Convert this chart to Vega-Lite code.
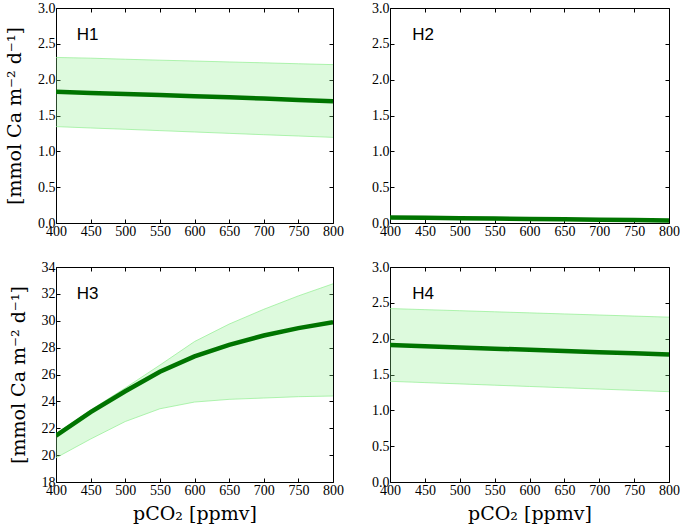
{
  "$schema": "https://vega.github.io/schema/vega-lite/v6.json",
  "padding": {"left": 5, "top": 0, "right": 0, "bottom": 0},
  "background": "white",
  "datasets": {
    "d": [
      {"panel": "H1", "x": 400, "mean": 1.83, "hi": 2.31, "lo": 1.345},
      {"panel": "H1", "x": 450, "mean": 1.815, "hi": 2.30, "lo": 1.326},
      {"panel": "H1", "x": 500, "mean": 1.80, "hi": 2.285, "lo": 1.308},
      {"panel": "H1", "x": 550, "mean": 1.785, "hi": 2.272, "lo": 1.289},
      {"panel": "H1", "x": 600, "mean": 1.77, "hi": 2.26, "lo": 1.27},
      {"panel": "H1", "x": 650, "mean": 1.753, "hi": 2.247, "lo": 1.251},
      {"panel": "H1", "x": 700, "mean": 1.736, "hi": 2.235, "lo": 1.232},
      {"panel": "H1", "x": 750, "mean": 1.718, "hi": 2.222, "lo": 1.214},
      {"panel": "H1", "x": 800, "mean": 1.70, "hi": 2.21, "lo": 1.195},
      {"panel": "H2", "x": 400, "mean": 0.078, "hi": 0.083, "lo": 0.058},
      {"panel": "H2", "x": 450, "mean": 0.073, "hi": 0.078, "lo": 0.053},
      {"panel": "H2", "x": 500, "mean": 0.068, "hi": 0.073, "lo": 0.048},
      {"panel": "H2", "x": 550, "mean": 0.063, "hi": 0.068, "lo": 0.043},
      {"panel": "H2", "x": 600, "mean": 0.057, "hi": 0.062, "lo": 0.037},
      {"panel": "H2", "x": 650, "mean": 0.052, "hi": 0.057, "lo": 0.032},
      {"panel": "H2", "x": 700, "mean": 0.046, "hi": 0.051, "lo": 0.026},
      {"panel": "H2", "x": 750, "mean": 0.041, "hi": 0.046, "lo": 0.021},
      {"panel": "H2", "x": 800, "mean": 0.036, "hi": 0.041, "lo": 0.016},
      {"panel": "H3", "x": 400, "mean": 21.45, "hi": 21.6, "lo": 19.8},
      {"panel": "H3", "x": 450, "mean": 23.2, "hi": 23.35, "lo": 21.2},
      {"panel": "H3", "x": 500, "mean": 24.75, "hi": 25.0, "lo": 22.5},
      {"panel": "H3", "x": 550, "mean": 26.2, "hi": 26.7, "lo": 23.45},
      {"panel": "H3", "x": 600, "mean": 27.35, "hi": 28.45, "lo": 23.95},
      {"panel": "H3", "x": 650, "mean": 28.2, "hi": 29.75, "lo": 24.15},
      {"panel": "H3", "x": 700, "mean": 28.9, "hi": 30.85, "lo": 24.25},
      {"panel": "H3", "x": 750, "mean": 29.45, "hi": 31.85, "lo": 24.35},
      {"panel": "H3", "x": 800, "mean": 29.9, "hi": 32.75, "lo": 24.4},
      {"panel": "H4", "x": 400, "mean": 1.91, "hi": 2.42, "lo": 1.405},
      {"panel": "H4", "x": 450, "mean": 1.894, "hi": 2.405, "lo": 1.387},
      {"panel": "H4", "x": 500, "mean": 1.878, "hi": 2.39, "lo": 1.369},
      {"panel": "H4", "x": 550, "mean": 1.861, "hi": 2.375, "lo": 1.351},
      {"panel": "H4", "x": 600, "mean": 1.845, "hi": 2.36, "lo": 1.333},
      {"panel": "H4", "x": 650, "mean": 1.829, "hi": 2.345, "lo": 1.315},
      {"panel": "H4", "x": 700, "mean": 1.812, "hi": 2.33, "lo": 1.297},
      {"panel": "H4", "x": 750, "mean": 1.796, "hi": 2.315, "lo": 1.279},
      {"panel": "H4", "x": 800, "mean": 1.78, "hi": 2.30, "lo": 1.26}
    ]
  },
  "data": {"name": "d"},
  "spacing": 20,
  "vconcat": [
    {
      "spacing": 57,
      "bounds": "flush",
      "hconcat": [
        {
          "width": 277, "height": 215,
          "transform": [{"filter": "datum.panel === 'H1'"}],
          "layer": [
            {"mark": {"type": "area", "color": "#90ee90", "opacity": 0.3, "clip": true},
             "encoding": {
               "x": {"field": "x", "type": "quantitative", "scale": {"domain": [400, 800]}, "axis": {"values": [400, 450, 500, 550, 600, 650, 700, 750, 800], "title": null}},
               "y": {"field": "lo", "type": "quantitative", "scale": {"domain": [0, 3]}, "axis": {"values": [0, 0.5, 1, 1.5, 2, 2.5, 3], "format": ".1f", "title": "[mmol Ca m⁻² d⁻¹]"}},
               "y2": {"field": "hi"}}},
            {"mark": {"type": "line", "color": "#90ee90", "opacity": 0.7, "strokeWidth": 1, "clip": true},
             "encoding": {"x": {"field": "x", "type": "quantitative", "axis": null}, "y": {"field": "hi", "type": "quantitative", "axis": null}}},
            {"mark": {"type": "line", "color": "#90ee90", "opacity": 0.7, "strokeWidth": 1, "clip": true},
             "encoding": {"x": {"field": "x", "type": "quantitative", "axis": null}, "y": {"field": "lo", "type": "quantitative", "axis": null}}},
            {"mark": {"type": "line", "color": "#007400", "strokeWidth": 4.5, "clip": true},
             "encoding": {
               "x": {"field": "x", "type": "quantitative", "axis": {"orient": "top", "labels": false, "title": null, "values": [400, 450, 500, 550, 600, 650, 700, 750, 800]}},
               "y": {"field": "mean", "type": "quantitative", "axis": {"orient": "right", "labels": false, "title": null, "values": [0, 0.5, 1, 1.5, 2, 2.5, 3]}}}},
            {"data": {"values": [{"panel": "H1", "t": "H1"}]},
             "mark": {"type": "text", "align": "left", "baseline": "alphabetic", "font": "Liberation Sans", "fontSize": 17, "color": "black"},
             "encoding": {"x": {"datum": 430, "type": "quantitative", "axis": null}, "y": {"datum": 2.55, "type": "quantitative", "axis": null}, "text": {"field": "t"}}}
          ],
          "resolve": {"axis": {"x": "independent", "y": "independent"}}
        },
        {
          "width": 279, "height": 215,
          "transform": [{"filter": "datum.panel === 'H2'"}],
          "layer": [
            {"mark": {"type": "area", "color": "#90ee90", "opacity": 0.3, "clip": true},
             "encoding": {
               "x": {"field": "x", "type": "quantitative", "scale": {"domain": [400, 800]}, "axis": {"values": [400, 450, 500, 550, 600, 650, 700, 750, 800], "title": null}},
               "y": {"field": "lo", "type": "quantitative", "scale": {"domain": [0, 3]}, "axis": {"values": [0, 0.5, 1, 1.5, 2, 2.5, 3], "format": ".1f", "title": null}},
               "y2": {"field": "hi"}}},
            {"mark": {"type": "line", "color": "#90ee90", "opacity": 0.7, "strokeWidth": 1, "clip": true},
             "encoding": {"x": {"field": "x", "type": "quantitative", "axis": null}, "y": {"field": "hi", "type": "quantitative", "axis": null}}},
            {"mark": {"type": "line", "color": "#90ee90", "opacity": 0.7, "strokeWidth": 1, "clip": true},
             "encoding": {"x": {"field": "x", "type": "quantitative", "axis": null}, "y": {"field": "lo", "type": "quantitative", "axis": null}}},
            {"mark": {"type": "line", "color": "#007400", "strokeWidth": 4.5, "clip": true},
             "encoding": {
               "x": {"field": "x", "type": "quantitative", "axis": {"orient": "top", "labels": false, "title": null, "values": [400, 450, 500, 550, 600, 650, 700, 750, 800]}},
               "y": {"field": "mean", "type": "quantitative", "axis": {"orient": "right", "labels": false, "title": null, "values": [0, 0.5, 1, 1.5, 2, 2.5, 3]}}}},
            {"data": {"values": [{"panel": "H2", "t": "H2"}]},
             "mark": {"type": "text", "align": "left", "baseline": "alphabetic", "font": "Liberation Sans", "fontSize": 17, "color": "black"},
             "encoding": {"x": {"datum": 432, "type": "quantitative", "axis": null}, "y": {"datum": 2.55, "type": "quantitative", "axis": null}, "text": {"field": "t"}}}
          ],
          "resolve": {"axis": {"x": "independent", "y": "independent"}}
        }
      ]
    },
    {
      "spacing": 57,
      "bounds": "flush",
      "hconcat": [
        {
          "width": 277, "height": 215,
          "transform": [{"filter": "datum.panel === 'H3'"}],
          "layer": [
            {"mark": {"type": "area", "color": "#90ee90", "opacity": 0.3, "clip": true},
             "encoding": {
               "x": {"field": "x", "type": "quantitative", "scale": {"domain": [400, 800]}, "axis": {"values": [400, 450, 500, 550, 600, 650, 700, 750, 800], "title": "pCO₂ [ppmv]"}},
               "y": {"field": "lo", "type": "quantitative", "scale": {"domain": [18, 34]}, "axis": {"values": [18, 20, 22, 24, 26, 28, 30, 32, 34], "title": "[mmol Ca m⁻² d⁻¹]"}},
               "y2": {"field": "hi"}}},
            {"mark": {"type": "line", "color": "#90ee90", "opacity": 0.7, "strokeWidth": 1, "clip": true},
             "encoding": {"x": {"field": "x", "type": "quantitative", "axis": null}, "y": {"field": "hi", "type": "quantitative", "axis": null}}},
            {"mark": {"type": "line", "color": "#90ee90", "opacity": 0.7, "strokeWidth": 1, "clip": true},
             "encoding": {"x": {"field": "x", "type": "quantitative", "axis": null}, "y": {"field": "lo", "type": "quantitative", "axis": null}}},
            {"mark": {"type": "line", "color": "#007400", "strokeWidth": 4.5, "clip": true},
             "encoding": {
               "x": {"field": "x", "type": "quantitative", "axis": {"orient": "top", "labels": false, "title": null, "values": [400, 450, 500, 550, 600, 650, 700, 750, 800]}},
               "y": {"field": "mean", "type": "quantitative", "axis": {"orient": "right", "labels": false, "title": null, "values": [18, 20, 22, 24, 26, 28, 30, 32, 34]}}}},
            {"data": {"values": [{"panel": "H3", "t": "H3"}]},
             "mark": {"type": "text", "align": "left", "baseline": "alphabetic", "font": "Liberation Sans", "fontSize": 17, "color": "black"},
             "encoding": {"x": {"datum": 430, "type": "quantitative", "axis": null}, "y": {"datum": 31.6, "type": "quantitative", "axis": null}, "text": {"field": "t"}}}
          ],
          "resolve": {"axis": {"x": "independent", "y": "independent"}}
        },
        {
          "width": 279, "height": 215,
          "transform": [{"filter": "datum.panel === 'H4'"}],
          "layer": [
            {"mark": {"type": "area", "color": "#90ee90", "opacity": 0.3, "clip": true},
             "encoding": {
               "x": {"field": "x", "type": "quantitative", "scale": {"domain": [400, 800]}, "axis": {"values": [400, 450, 500, 550, 600, 650, 700, 750, 800], "title": "pCO₂ [ppmv]"}},
               "y": {"field": "lo", "type": "quantitative", "scale": {"domain": [0, 3]}, "axis": {"values": [0, 0.5, 1, 1.5, 2, 2.5, 3], "format": ".1f", "title": null}},
               "y2": {"field": "hi"}}},
            {"mark": {"type": "line", "color": "#90ee90", "opacity": 0.7, "strokeWidth": 1, "clip": true},
             "encoding": {"x": {"field": "x", "type": "quantitative", "axis": null}, "y": {"field": "hi", "type": "quantitative", "axis": null}}},
            {"mark": {"type": "line", "color": "#90ee90", "opacity": 0.7, "strokeWidth": 1, "clip": true},
             "encoding": {"x": {"field": "x", "type": "quantitative", "axis": null}, "y": {"field": "lo", "type": "quantitative", "axis": null}}},
            {"mark": {"type": "line", "color": "#007400", "strokeWidth": 4.5, "clip": true},
             "encoding": {
               "x": {"field": "x", "type": "quantitative", "axis": {"orient": "top", "labels": false, "title": null, "values": [400, 450, 500, 550, 600, 650, 700, 750, 800]}},
               "y": {"field": "mean", "type": "quantitative", "axis": {"orient": "right", "labels": false, "title": null, "values": [0, 0.5, 1, 1.5, 2, 2.5, 3]}}}},
            {"data": {"values": [{"panel": "H4", "t": "H4"}]},
             "mark": {"type": "text", "align": "left", "baseline": "alphabetic", "font": "Liberation Sans", "fontSize": 17, "color": "black"},
             "encoding": {"x": {"datum": 432, "type": "quantitative", "axis": null}, "y": {"datum": 2.56, "type": "quantitative", "axis": null}, "text": {"field": "t"}}}
          ],
          "resolve": {"axis": {"x": "independent", "y": "independent"}}
        }
      ]
    }
  ],
  "config": {
    "view": {"stroke": "black", "strokeWidth": 1},
    "axis": {
      "domain": false, "grid": false,
      "tickColor": "black", "tickSize": -4, "tickWidth": 1,
      "labelFont": "Liberation Serif", "labelFontSize": 14, "labelColor": "black", "labelPadding": 5, "labelFlush": false,
      "titleFont": "DejaVu Serif", "titleFontSize": 19, "titleFontWeight": "normal", "titleColor": "black"
    },
    "axisY": {"titlePadding": 13, "titleFontSize": 19},
    "axisX": {"titlePadding": 7}
  }
}
